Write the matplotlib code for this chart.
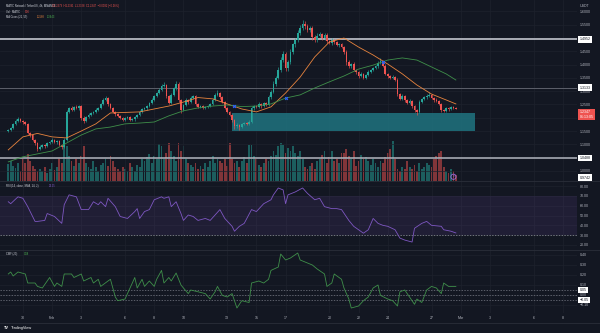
import numpy as np
import matplotlib
matplotlib.use("Agg")
import matplotlib.pyplot as plt
import matplotlib.transforms as mtransforms
from matplotlib.patches import Rectangle
from matplotlib.lines import Line2D
from matplotlib.ticker import FuncFormatter

plt.rcParams['font.family'] = ['Liberation Sans', 'DejaVu Sans']

# MATIC/USDT 4h candles, index 0 = Jan 29 00:00
open_first = 1.150
closes = [
    1.154, 1.162, 1.177, 1.188, 1.195, 1.188, 1.184, 1.177, 1.143, 1.135,
    1.117, 1.105, 1.083, 1.090, 1.098, 1.094, 1.105, 1.109, 1.117, 1.109,
    1.113, 1.098, 1.090, 1.117, 1.222, 1.237, 1.229, 1.241, 1.237, 1.244,
    1.199, 1.188, 1.203, 1.211, 1.218, 1.222, 1.229, 1.237, 1.252, 1.267,
    1.274, 1.252, 1.237, 1.222, 1.214, 1.207, 1.199, 1.192, 1.199, 1.203,
    1.192, 1.195, 1.203, 1.211, 1.222, 1.233, 1.237, 1.244, 1.256, 1.267,
    1.282, 1.293, 1.305, 1.320, 1.323, 1.282, 1.256, 1.286, 1.312, 1.327,
    1.267, 1.229, 1.248, 1.267, 1.259, 1.274, 1.282, 1.252, 1.241, 1.244,
    1.237, 1.241, 1.244, 1.252, 1.267, 1.286, 1.293, 1.278, 1.259, 1.237,
    1.222, 1.211, 1.192, 1.169, 1.173, 1.165, 1.177, 1.180, 1.177, 1.184,
    1.237, 1.244, 1.241, 1.252, 1.244, 1.256, 1.248, 1.278, 1.297, 1.327,
    1.350, 1.380, 1.417, 1.440, 1.387, 1.410, 1.447, 1.477, 1.492, 1.519,
    1.538, 1.553, 1.545, 1.530, 1.538, 1.504, 1.492, 1.508, 1.515, 1.500,
    1.511, 1.489, 1.481, 1.492, 1.485, 1.474, 1.477, 1.466, 1.447, 1.410,
    1.395, 1.402, 1.380, 1.372, 1.357, 1.365, 1.350, 1.361, 1.372, 1.380,
    1.387, 1.395, 1.406, 1.414, 1.395, 1.365, 1.357, 1.350, 1.353, 1.342,
    1.289, 1.271, 1.282, 1.267, 1.256, 1.263, 1.244, 1.229, 1.222, 1.259,
    1.271, 1.278, 1.282, 1.286, 1.274, 1.267, 1.263, 1.252, 1.229, 1.226,
    1.237, 1.233, 1.240, 1.238, 1.2347,
]
# wick lengths above / below the body, in 0.001
wick_hi = [
    4, 5, 3, 6, 8, 4, 3, 5, 4, 3,
    5, 3, 4, 6, 3, 4, 5, 3, 6, 4,
    3, 5, 4, 6, 8, 5, 7, 4, 6, 5,
    4, 6, 3, 5, 4, 3, 6, 4, 5, 8,
    6, 4, 3, 5, 4, 3, 4, 5, 3, 4,
    3, 5, 4, 3, 6, 4, 5, 3, 4, 6,
    5, 4, 6, 8, 12, 5, 4, 6, 5, 10,
    6, 4, 5, 7, 4, 6, 5, 3, 4, 5,
    4, 3, 5, 4, 6, 8, 10, 5, 4, 3,
    5, 4, 3, 4, 6, 3, 4, 5, 4, 6,
    8, 5, 4, 6, 4, 5, 4, 6, 8, 10,
    8, 10, 12, 10, 9, 8, 12, 6, 8, 10,
    12, 15, 10, 8, 9, 6, 8, 10, 7, 5,
    8, 6, 5, 7, 6, 4, 5, 6, 4, 8,
    6, 5, 7, 4, 5, 6, 5, 4, 6, 5,
    4, 5, 6, 12, 5, 6, 4, 5, 6, 4,
    6, 5, 7, 4, 5, 6, 4, 5, 4, 6,
    5, 4, 7, 10, 5, 4, 6, 5, 4, 5,
    4, 5, 6, 4, 1,
]
wick_lo = [
    5, 4, 6, 3, 4, 5, 6, 4, 5, 6,
    4, 6, 10, 5, 4, 6, 3, 5, 4, 5,
    6, 5, 8, 4, 5, 6, 4, 5, 4, 6,
    8, 6, 4, 5, 3, 4, 5, 4, 3, 5,
    4, 6, 5, 4, 6, 5, 4, 6, 5, 4,
    5, 4, 6, 4, 3, 5, 4, 6, 4, 5,
    4, 5, 3, 4, 6, 8, 6, 5, 4, 6,
    8, 12, 5, 4, 6, 5, 4, 6, 5, 4,
    5, 4, 6, 5, 4, 3, 5, 6, 4, 5,
    6, 5, 8, 10, 6, 12, 5, 4, 6, 5,
    5, 6, 4, 5, 6, 4, 5, 4, 6, 5,
    6, 5, 8, 6, 12, 10, 8, 6, 10, 8,
    8, 6, 10, 8, 6, 12, 8, 6, 5, 7,
    6, 8, 5, 6, 7, 5, 6, 5, 8, 10,
    8, 6, 5, 7, 6, 5, 4, 6, 5, 4,
    5, 4, 6, 4, 5, 6, 8, 5, 6, 4,
    8, 6, 5, 7, 6, 5, 6, 8, 10, 5,
    4, 5, 6, 4, 5, 6, 5, 4, 6, 5,
    4, 6, 5, 4, 2,
]
volumes = [
    17, 20, 15, 13, 18, 10, 22, 18, 27, 20,
    15, 12, 10, 12, 10, 14, 8, 12, 18, 11,
    14, 23, 18, 40, 35, 25, 20, 15, 22, 18,
    25, 35, 18, 14, 12, 20, 14, 10, 16, 18,
    22, 15, 25, 20, 14, 12, 10, 14, 12, 10,
    18, 14, 10, 16, 14, 22, 20, 24, 27, 18,
    25, 22, 37, 35, 22, 28, 38, 30, 25, 20,
    38, 30, 35, 22, 18, 16, 14, 18, 12, 15,
    12, 18, 14, 20, 25, 18, 22, 20, 18, 22,
    15, 38, 22, 18, 20, 14, 20, 24, 18, 36,
    36, 25, 22, 16, 14, 18, 22, 20, 25, 30,
    26, 35, 38, 36, 28, 33, 30, 35, 28, 25,
    30, 22, 14, 12, 15, 18, 12, 20, 22, 26,
    30, 18, 24, 30, 20, 22, 18, 28, 28, 32,
    25, 22, 30, 15, 20, 26, 22, 24, 20, 16,
    22, 18, 14, 20, 18, 24, 28, 32, 40, 22,
    12, 10, 14, 12, 20, 14, 12, 16, 10, 18,
    12, 14, 18, 16, 14, 22, 25, 28, 30, 14,
    10, 8, 12, 10, 6,
]

# MA Cross (21, 55), read once per day
ma_idx = [0, 6, 12, 18, 24, 30, 36, 42, 48, 54, 60, 66, 72, 78, 84, 90,
          96, 102, 108, 114, 120, 126, 132, 138, 144, 150, 156, 162, 168,
          174, 180, 184]
ma_fast = [1.079, 1.128, 1.141, 1.128, 1.124, 1.150, 1.177, 1.218, 1.220,
           1.222, 1.233, 1.244, 1.259, 1.276, 1.271, 1.252, 1.233, 1.222,
           1.241, 1.293, 1.353, 1.429, 1.485, 1.500, 1.466, 1.436, 1.402,
           1.365, 1.323, 1.289, 1.267, 1.252]
ma_slow = [1.034, 1.053, 1.064, 1.075, 1.105, 1.135, 1.158, 1.165, 1.177,
           1.180, 1.184, 1.207, 1.226, 1.237, 1.244, 1.248, 1.242, 1.244,
           1.252, 1.274, 1.286, 1.312, 1.335, 1.357, 1.383, 1.398, 1.417,
           1.425, 1.417, 1.391, 1.365, 1.342]
cross_idx = [93, 114, 154]
cross_price = [1.244, 1.274, 1.410]

rsi_idx = [0, 1, 4, 6, 8, 11, 12, 15, 16, 19, 22, 23, 25, 28, 30, 33, 35, 37,
           38, 40, 41, 44, 46, 49, 52, 53, 54, 56, 58, 60, 63, 64, 66, 67, 69,
           71, 72, 74, 76, 78, 81, 83, 85, 87, 89, 92, 93, 95, 97, 100, 102,
           105, 108, 109, 111, 113, 114, 115, 118, 121, 123, 126, 128, 130,
           133, 135, 137, 140, 142, 144, 146, 148, 150, 152, 154, 156, 159,
           161, 163, 166, 167, 170, 172, 174, 178, 179, 182, 184]
rsi_val = [64, 62, 69, 67.5, 59, 44, 44, 45, 52, 49, 42, 61, 71, 69, 56, 56,
           64, 61, 64, 59, 67.5, 59, 49, 47, 54, 57, 47, 54, 56, 66, 69, 67.5,
           69, 59, 64, 52, 45, 50.5, 49, 45, 47, 45, 50.5, 56, 47, 39, 34, 39,
           42, 56, 54, 62, 66, 71, 78, 76, 62, 71, 74, 78, 72.5, 66, 67.5, 59,
           57, 57, 56, 45, 39, 35.5, 32, 35.5, 47, 42, 40, 39, 35.5, 27, 25,
           23, 37, 42, 44, 40, 39, 35.5, 34, 32.25]

cmf_idx = [0, 1, 2, 4, 7, 8, 11, 12, 14, 16, 17, 19, 20, 22, 23, 26, 27, 30,
           31, 34, 35, 37, 38, 41, 42, 44, 45, 48, 49, 51, 52, 53, 55, 56, 58,
           60, 61, 63, 64, 66, 67, 69, 71, 72, 74, 75, 78, 81, 83, 85, 86, 88,
           90, 92, 94, 96, 99, 100, 103, 105, 107, 108, 111, 112, 114, 116,
           119, 120, 123, 125, 127, 130, 131, 133, 134, 137, 138, 140, 141,
           144, 146, 148, 150, 152, 153, 156, 158, 160, 161, 163, 164, 167,
           168, 170, 172, 174, 176, 178, 179, 181, 184]
cmf_val = [0.21, 0.23, 0.19, 0.23, 0.21, 0.12, 0.12, 0.086, 0.07, 0.14, 0.175,
           0.086, 0.12, 0.086, 0.21, 0.21, 0.175, 0.21, 0.14, 0.175, 0.12,
           0.157, 0.086, 0.14, 0.157, -0.02, -0.057, -0.04, 0.014, 0.12, 0.175,
           0.07, 0.157, 0.086, 0.14, 0.086, 0.157, 0.246, 0.12, 0.175, 0.14,
           0.22, 0.10, 0.07, 0.014, 0.05, 0.032, 0.014, -0.04, 0.032, 0.086,
           -0.004, -0.02, 0.014, -0.13, -0.057, -0.075, 0.12, 0.14, 0.12,
           0.157, 0.246, 0.28, 0.41, 0.35, 0.37, 0.42, 0.35, 0.32, 0.30, 0.26,
           0.21, 0.086, 0.12, 0.21, 0.157, 0.07, -0.04, -0.13, -0.11, -0.057,
           -0.02, 0.07, 0.10, -0.004, -0.04, -0.057, -0.11, 0.032, 0.05, 0.014,
           -0.093, -0.04, -0.075, 0.05, 0.086, 0.07, 0.014, 0.12, 0.086, 0.086]

levels = [1.4952, 1.3133, 1.0488]
level_labels = ["1.4952", "1.3133", "1.0488"]
zone_start, zone_end, zone_lo, zone_hi = 92, 192, 1.150, 1.216

# price ticks hidden behind the scale tags
hidden_prices = [1.20, 1.05]

tick_days = [1, 3, 5, 8, 10, 12, 15, 17, 19, 22, 24, 26, 29, 31, 33, 36, 38]
tick_labels = ["30", "Feb", "3", "6", "8", "10", "13", "15", "17", "20", "22",
               "24", "27", "Mar", "3", "6", "8"]

W, H = 600, 333
BG = "#131722"
GRID = "#1e222d"
TXT = "#b2b5be"
UP = "#26a69a"
DOWN = "#ef5350"
FS = 2.6
xlim = (-3.4, 233.8)


def pane(top, bottom):
    return [0, 1 - bottom / H, 577 / W, (bottom - top) / H]


def style(a, ylim, yticks, fmt):
    a.set_xlim(xlim)
    a.set_ylim(ylim)
    a.set_xticks(np.array(tick_days) * 6)
    a.set_yticks(yticks)
    a.yaxis.tick_right()
    a.yaxis.set_major_formatter(FuncFormatter(fmt))
    a.tick_params(axis='y', length=0, pad=2.2, labelsize=FS, labelcolor=TXT)
    a.tick_params(axis='x', length=0, labelbottom=False)
    a.grid(True, color=GRID, lw=0.5)
    a.set_axisbelow(True)
    for s in a.spines.values():
        s.set_visible(False)


def tag(a, y, text, fc, tc):
    tr = mtransforms.blended_transform_factory(a.transAxes, a.transData)
    a.text(1.0 + 2.5 / 577, y, text, transform=tr, ha='left', va='center',
           fontsize=FS, color=tc, clip_on=False, zorder=10,
           bbox=dict(boxstyle='square,pad=0.35', fc=fc, ec='none'))


def price_fmt(v, p):
    if any(abs(v - h) < 1e-6 for h in hidden_prices):
        return ""
    return f"{v:.4f}"


fig = plt.figure(figsize=(6, 3.33), dpi=100, facecolor=BG)

n = len(closes)
idx = np.arange(n)
c = np.array(closes)
o = np.concatenate([[open_first], c[:-1]])
hi = np.maximum(o, c) + np.array(wick_hi) / 1000
lo = np.minimum(o, c) - np.array(wick_lo) / 1000
col = np.where(c >= o, UP, DOWN)

# volume underneath
ax_vol = fig.add_axes(pane(0, 181))
ax_vol.bar(idx, volumes, width=0.75, color=col, alpha=0.5, linewidth=0)
ax_vol.set_xlim(xlim)
ax_vol.set_ylim(0, 181)
ax_vol.axis('off')

# price pane
ax = fig.add_axes(pane(0, 181), facecolor='none')
style(ax, (0.962, 1.643), np.arange(1.0, 1.601, 0.05), price_fmt)
ax.add_patch(Rectangle((zone_start, zone_lo), zone_end - zone_start,
                       zone_hi - zone_lo, facecolor='#1f7480', alpha=0.85,
                       lw=0, zorder=1))
ax.axhline(levels[0], color='#d1d4dc', lw=1.1, zorder=2)
ax.axhline(levels[1], color='#5d606b', lw=0.7, zorder=2)
ax.axhline(levels[2], color='#b2b5be', lw=1.1, zorder=2)
ax.vlines(idx, lo, hi, colors=col, lw=0.45, zorder=3)
ax.bar(idx, np.maximum(np.abs(c - o), 0.0012), bottom=np.minimum(o, c),
       width=0.7, color=col, linewidth=0, zorder=4)
ax.plot(ma_idx, ma_fast, color='#e8843e', lw=0.6, zorder=5)
ax.plot(ma_idx, ma_slow, color='#3f8f4a', lw=0.6, zorder=5)
ax.plot(cross_idx, cross_price, 'X', color='#2962ff', ms=2.6, mew=0, zorder=6)
ax.scatter([183], [0.978], s=14, facecolor='none', edgecolor='#9c6ade',
           lw=0.6, zorder=6)
ax.text(183, 0.978, "P", fontsize=2, color='#9c6ade', ha='center',
        va='center', zorder=6)
for lv, lb in zip(levels, level_labels):
    tag(ax, lv, lb, 'white', BG)
tag(ax, closes[-1] - 0.022, "1.2347\n01:13:05", DOWN, 'white')
tag(ax, 0.9742, "0.9742", 'white', BG)

# RSI pane
ax_rsi = fig.add_axes(pane(181, 250), facecolor='none')
style(ax_rsi, (14.9, 85.1), np.arange(20, 81, 10), lambda v, p: f"{v:.2f}")
ax_rsi.axhspan(30, 70, color='#7e57c2', alpha=0.12, lw=0)
ax_rsi.axhline(30, color='#9598a1', lw=0.5, ls=(0, (2, 2)))
ax_rsi.plot(rsi_idx, rsi_val, color='#7e57c2', lw=0.6)

# CMF pane
ax_cmf = fig.add_axes(pane(250, 313), facecolor='none')
style(ax_cmf, (-0.18, 0.45), np.arange(-0.1, 0.41, 0.1),
      lambda v, p: f"{v:.2f}".replace("-", "\u2212"))
for lv in (0.05, 0.0, -0.05):
    ax_cmf.axhline(lv, color='#787b86', lw=0.5, ls=(0, (2, 2)))
ax_cmf.plot(cmf_idx, cmf_val, color='#3f8f4a', lw=0.6)
tag(ax_cmf, 0.05, "0.05", 'white', BG)
tag(ax_cmf, -0.05, "\u22120.05", 'white', BG)
ax_cmf.set_xticklabels(tick_labels)
ax_cmf.tick_params(axis='x', labelbottom=True, pad=2, labelsize=FS,
                   labelcolor=TXT)

# pane separators
for yy in (181, 250, 323):
    fig.add_artist(Line2D([0, 1], [1 - yy / H] * 2, color='#2a2e39', lw=0.6,
                          transform=fig.transFigure))

# legends / titles
def ftxt(x, y, s, color='#d1d4dc', size=1.9, **kw):
    fig.text(x / W, 1 - y / H, s, color=color, fontsize=size, va='center', **kw)


ftxt(6, 6, "MATIC Network / TetherUS, 4h, BINANCE")
ftxt(52, 6, "O1.2379  H1.2391  L1.2328  C1.2347  \u22120.0032 (\u22120.26%)",
     color=DOWN)
ftxt(6, 12, "Vol \u00b7 MATIC")
ftxt(25, 12, "5.56", color=DOWN)
ftxt(6, 17, "MA Cross (21, 55)")
ftxt(37, 17, "1.2568", color='#e8843e')
ftxt(47, 17, "1.3443", color='#4caf50')
ftxt(6, 186, "RSI (14, close, SMA, 14, 2)")
ftxt(49, 186, "32.25", color='#7e57c2')
ftxt(6, 254, "CMF (20)")
ftxt(24, 254, "0.08", color='#4caf50')
ftxt(585, 6, "USDT", color=TXT, size=FS, ha='center')
ftxt(4, 328, "TV", color='white', size=2.8, fontweight='bold')
ftxt(11, 328, "TradingView", color='white', size=2.8)

fig.savefig("out.png", dpi=100, facecolor=BG)
